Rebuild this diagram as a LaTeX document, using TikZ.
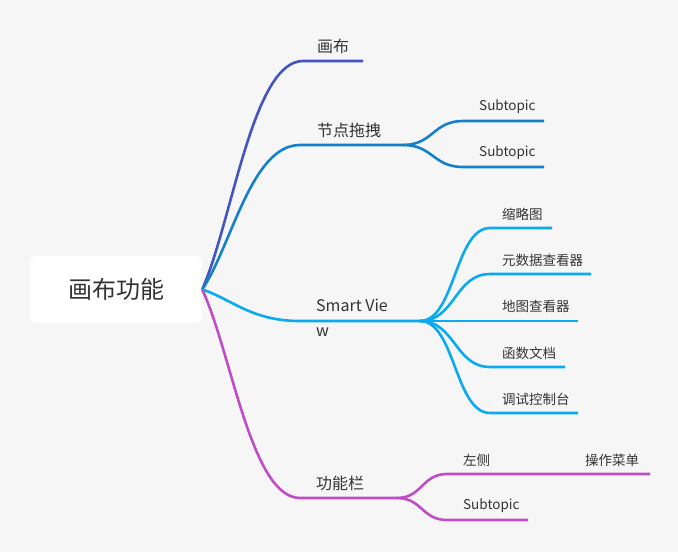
\documentclass[tikz,border=0pt]{standalone}
\usepackage{fontspec}
\setmainfont{Noto Sans CJK SC}
\usetikzlibrary{calc}

\definecolor{bg}{HTML}{F6F6F6}
\definecolor{txt}{HTML}{333333}
\definecolor{cCanvas}{HTML}{4355C0}
\definecolor{cDrag}{HTML}{1380C8}
\definecolor{cView}{HTML}{0AAAF0}
\definecolor{cBar}{HTML}{BF4EC6}

\tikzset{
	mainbranch/.style={to path={.. controls ($(\tikztostart)!0.3!(\tikztotarget)$) and ($(\tikztotarget)!0.5!(\tikztotarget -| \tikztostart)$) .. (\tikztotarget)}},
	subbranch/.style={to path={.. controls ($(\tikztostart)!0.5!(\tikztostart -| \tikztotarget)$) and ($(\tikztotarget)!0.5!(\tikztotarget -| \tikztostart)$) .. (\tikztotarget)}},
	bline/.style={line width=2.6pt, line join=round},
	topic/.style={anchor=west, inner sep=0pt, text=txt, font=\fontsize{16}{25}\selectfont},
	subtopic/.style={anchor=west, inner sep=0pt, text=txt, font=\fontsize{13.5}{16}\selectfont},
}

\begin{document}
\begin{tikzpicture}[x=1pt, y=-1pt]
	\fill[bg] (0, 0) rectangle (678, 552);
	\useasboundingbox (0, 0) rectangle (678, 552);
	% root
	\node (root) at (116, 289.5)	[fill=white, rounded corners=6pt, minimum width=172pt, minimum height=67pt, text=txt, font=\fontsize{24}{28}\selectfont] {画布功能};
	% line ends
	\coordinate (k1) at (303, 61);	\coordinate (k1e) at (363, 61);
	\coordinate (k2) at (300, 145);	\coordinate (k2e) at (403, 145);
	\coordinate (k2a) at (463, 121);	\coordinate (k2ae) at (544, 121);
	\coordinate (k2b) at (463, 167);	\coordinate (k2be) at (544, 167);
	\coordinate (k3) at (300, 321);	\coordinate (k3e) at (420, 321);
	\coordinate (k3a) at (490, 228);	\coordinate (k3ae) at (552, 228);
	\coordinate (k3b) at (490, 274);	\coordinate (k3be) at (591, 274);
	\coordinate (k3c) at (490, 321);	\coordinate (k3ce) at (578, 321);
	\coordinate (k3d) at (490, 367);	\coordinate (k3de) at (565, 367);
	\coordinate (k3f) at (490, 413);	\coordinate (k3fe) at (578, 413);
	\coordinate (k4) at (300, 498);	\coordinate (k4e) at (397, 498);
	\coordinate (k4a) at (447, 474);	\coordinate (k4ae) at (650, 474);
	\coordinate (k4b) at (447, 520);	\coordinate (k4be) at (528, 520);
	% branches
	\draw[bline, cCanvas] (root.east) to[mainbranch] (k1) -- (k1e);
	\draw[bline, cDrag] (root.east) to[mainbranch] (k2) -- (k2e);
	\draw[bline, cDrag] (k2e) to[subbranch] (k2a) -- (k2ae);
	\draw[bline, cDrag] (k2e) to[subbranch] (k2b) -- (k2be);
	\draw[bline, cView] (root.east) to[mainbranch] (k3) -- (k3e);
	\draw[bline, cView] (k3e) to[subbranch] (k3a) -- (k3ae);
	\draw[bline, cView] (k3e) to[subbranch] (k3b) -- (k3be);
	\draw[bline, cView] (k3e) to[subbranch] (k3c) -- (k3ce);
	\draw[bline, cView] (k3e) to[subbranch] (k3d) -- (k3de);
	\draw[bline, cView] (k3e) to[subbranch] (k3f) -- (k3fe);
	\draw[bline, cBar] (root.east) to[mainbranch] (k4) -- (k4e);
	\draw[bline, cBar] (k4e) to[subbranch] (k4a) -- (k4ae);
	\draw[bline, cBar] (k4e) to[subbranch] (k4b) -- (k4be);
	% labels
	\node (canvas) at (317, 46)	[topic] {画布};
	\node (drag) at (317, 130)	[topic] {节点拖拽};
	\node (dragA) at (479, 107)	[subtopic] {Subtopic};
	\node (dragB) at (479, 153)	[subtopic] {Subtopic};
	\node (view) at (316, 317.5)	[topic, align=left] {Smart Vie\\w};
	\node (viewA) at (502, 214)	[subtopic] {缩略图};
	\node (viewB) at (502, 260)	[subtopic] {元数据查看器};
	\node (viewC) at (502, 306)	[subtopic] {地图查看器};
	\node (viewD) at (502, 353)	[subtopic] {函数文档};
	\node (viewF) at (502, 399)	[subtopic] {调试控制台};
	\node (bar) at (316, 483)	[topic] {功能栏};
	\node (barA) at (463, 460)	[subtopic, text width=176pt] {左侧\hfill 操作菜单};
	\node (barB) at (463, 506)	[subtopic] {Subtopic};
\end{tikzpicture}
\end{document}
